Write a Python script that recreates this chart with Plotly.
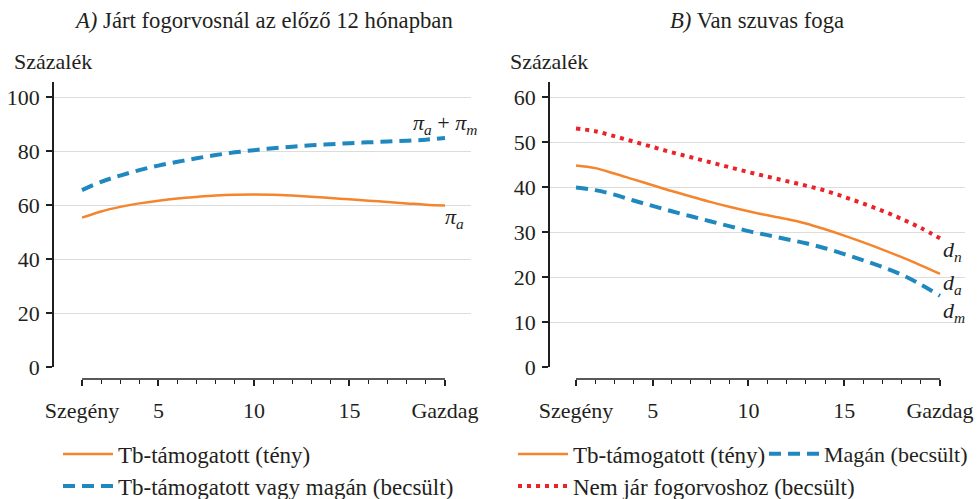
import plotly.graph_objects as go

W, H = 977, 499

# ---- data ----
ventiles = list(range(1, 21))
x_ticktext = ["Szegény", "5", "10", "15", "Gazdag"]
x_tickvals = [1, 5, 10, 15, 20]

# Panel A: Járt fogorvosnál az előző 12 hónapban
pi_a = [55.3, 57.6, 59.3, 60.6, 61.6, 62.4, 63.0, 63.5, 63.8, 63.9,
        63.8, 63.5, 63.1, 62.6, 62.1, 61.6, 61.1, 60.6, 60.1, 59.8]
pi_am = [65.5, 68.6, 70.9, 72.9, 74.6, 76.0, 77.3, 78.5, 79.5, 80.3,
         81.0, 81.6, 82.1, 82.5, 82.9, 83.2, 83.5, 83.8, 84.2, 84.8]

# Panel B: Van szuvas foga
d_a = [44.8, 44.2, 43.0, 41.7, 40.4, 39.1, 37.9, 36.7, 35.6, 34.6,
       33.7, 32.9, 31.9, 30.6, 29.2, 27.7, 26.1, 24.4, 22.6, 20.7]
d_m = [39.9, 39.3, 38.3, 37.0, 35.8, 34.6, 33.5, 32.4, 31.3, 30.2,
       29.3, 28.4, 27.5, 26.4, 25.1, 23.7, 22.2, 20.5, 18.3, 15.8]
d_n = [53.0, 52.4, 51.3, 50.1, 48.9, 47.7, 46.6, 45.5, 44.4, 43.3,
       42.3, 41.3, 40.3, 39.2, 37.8, 36.3, 34.7, 32.9, 30.9, 28.6]

ORANGE = "#f5852d"
BLUE = "#1f88be"
RED = "#ec2229"
FONT = "Liberation Serif"
TXT = "#231f20"
FS = 22

def px_x(p):
    return p / W

def px_y(p):
    return 1 - p / H

fig = go.Figure()

# Panel A traces
fig.add_trace(go.Scatter(x=ventiles, y=pi_a, mode="lines", xaxis="x", yaxis="y",
                         line=dict(color=ORANGE, width=2.5, shape="spline"),
                         name="Tb-támogatott (tény)", legend="legend"))
fig.add_trace(go.Scatter(x=ventiles, y=pi_am, mode="lines", xaxis="x", yaxis="y",
                         line=dict(color=BLUE, width=4, dash="12px,7px", shape="spline"),
                         name="Tb-támogatott vagy magán (becsült)", legend="legend2"))
# Panel B traces
fig.add_trace(go.Scatter(x=ventiles, y=d_n, mode="lines", xaxis="x2", yaxis="y2",
                         line=dict(color=RED, width=4, dash="4px,5px", shape="spline"),
                         name="Nem jár fogorvoshoz (becsült)", legend="legend4"))
fig.add_trace(go.Scatter(x=ventiles, y=d_a, mode="lines", xaxis="x2", yaxis="y2",
                         line=dict(color=ORANGE, width=2.5, shape="spline"),
                         name="Tb-támogatott (tény)", legend="legend3"))
fig.add_trace(go.Scatter(x=ventiles, y=d_m, mode="lines", xaxis="x2", yaxis="y2",
                         line=dict(color=BLUE, width=4, dash="12px,7px", shape="spline"),
                         name="Magán (becsült)", legend="legend5"))

xpos = px_y(379)
minor_vals = [v for v in ventiles if v not in x_tickvals]

def xaxis_cfg(domain, rng):
    return dict(domain=domain, range=rng, anchor="free", position=xpos,
                showline=False, showgrid=False, zeroline=False,
                tickmode="array", tickvals=x_tickvals, ticktext=x_ticktext,
                ticks="outside", ticklen=6, tickwidth=1.5, tickcolor=TXT,
                minor=dict(tickmode="array", tickvals=minor_vals, ticks="outside",
                           ticklen=4, tickwidth=1, tickcolor=TXT),
                tickfont=dict(family=FONT, size=FS, color=TXT),
                ticklabelstandoff=6, automargin=False, fixedrange=True)

def yaxis_cfg(domain, rng, dtick, anchor):
    return dict(domain=domain, range=rng, anchor=anchor,
                showline=True, linecolor=TXT, linewidth=1.5,
                showgrid=True, gridcolor="#dcdcdc", gridwidth=1.2,
                zeroline=False, tick0=0, dtick=dtick,
                ticks="outside", ticklen=6, tickwidth=1.5, tickcolor=TXT,
                tickfont=dict(family=FONT, size=FS, color=TXT),
                ticklabelstandoff=2,
                automargin=False, fixedrange=True)

ydom = [px_y(367), px_y(82)]
fig.update_layout(
    xaxis=xaxis_cfg([px_x(54), px_x(471)], [1 - 28 / 19.1, 20 + 26 / 19.1]),
    yaxis=yaxis_cfg(ydom, [0, 100 + 15 / 2.7], 20, "x"),
    xaxis2=xaxis_cfg([px_x(550), px_x(965)], [1 - 26 / 19.16, 20 + 25 / 19.16]),
    yaxis2=yaxis_cfg(ydom, [0, 60 + 15 / 4.5], 10, "x2"),
)

# x axis lines spanning the category range
for xr in ("x", "x2"):
    fig.add_shape(type="line", xref=xr, yref="paper", x0=ventiles[0], x1=ventiles[-1],
                  y0=xpos, y1=xpos, line=dict(color=TXT, width=1.5))

def leg(x, y, size=23):
    return dict(x=x, y=y, xanchor="left", yanchor="middle", orientation="v",
                font=dict(family=FONT, size=size, color=TXT),
                bgcolor="rgba(0,0,0,0)", borderwidth=0,
                itemwidth=50, tracegroupgap=0)

ROW1, ROW2 = 454, 486
fig.update_layout(
    legend=leg(px_x(58), px_y(ROW1)),
    legend2=leg(px_x(58), px_y(ROW2)),
    legend3=leg(px_x(513), px_y(ROW1)),
    legend5=leg(px_x(764), px_y(ROW1), size=22),
    legend4=leg(px_x(513), px_y(ROW2)),
    showlegend=True,
)

# titles and axis labels
ann = []
ann.append(dict(text="<i>A)</i> Járt fogorvosnál az előző 12 hónapban", x=px_x(263), y=px_y(20),
                xref="paper", yref="paper", showarrow=False, xanchor="center", yanchor="middle",
                font=dict(family=FONT, size=22.7, color=TXT)))
ann.append(dict(text="<i>B)</i> Van szuvas foga", x=px_x(757), y=px_y(20),
                xref="paper", yref="paper", showarrow=False, xanchor="center", yanchor="middle",
                font=dict(family=FONT, size=22.7, color=TXT)))
for xp in (12, 508):
    ann.append(dict(text="Százalék", x=px_x(xp), y=px_y(61), xref="paper", yref="paper",
                    showarrow=False, xanchor="left", yanchor="middle",
                    font=dict(family=FONT, size=FS, color=TXT)))

lab_font = dict(family=FONT, size=FS, color=TXT)
ann.append(dict(text="<i>π</i><sub><i>a</i></sub> + <i>π</i><sub><i>m</i></sub>",
                x=ventiles[-1], y=pi_am[-1], xref="x", yref="y", showarrow=False,
                xanchor="center", yanchor="middle", yshift=14, font=lab_font))
ann.append(dict(text="<i>π</i><sub><i>a</i></sub>",
                x=ventiles[-1], y=pi_a[-1], xref="x", yref="y", showarrow=False,
                xanchor="center", yanchor="middle", xshift=10, yshift=-12, font=lab_font))
for series, sub, ys in ((d_n, "n", -13), (d_a, "a", -10), (d_m, "m", -16)):
    ann.append(dict(text=f"<i>d</i><sub><i>{sub}</i></sub>",
                    x=ventiles[-1], y=series[-1], xref="x2", yref="y2", showarrow=False,
                    xanchor="left", yanchor="middle", xshift=1, yshift=ys, font=lab_font))

fig.update_layout(annotations=ann, width=W, height=H,
                  margin=dict(l=0, r=0, t=0, b=0, autoexpand=False),
                  paper_bgcolor="white", plot_bgcolor="white")

fig.write_html("out.html", config={"displayModeBar": False},
               post_script="document.body.style.margin='0';document.body.style.overflow='hidden';")
